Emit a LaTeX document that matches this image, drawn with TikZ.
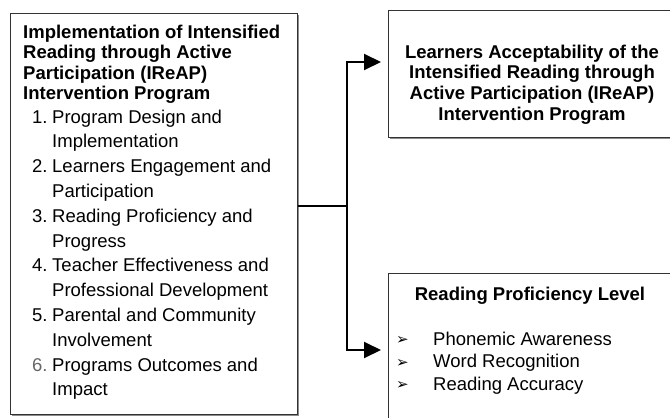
\documentclass[tikz,border=0pt]{standalone}
\usepackage{fontspec}
\setmainfont{Liberation Sans}
\newfontfamily\symfont{DejaVu Sans}
\usetikzlibrary{arrows.meta,shadows}

\tikzset{
  panel/.style={draw=black!80, line width=1.2pt, fill=white, inner sep=0pt,
    drop shadow={shadow xshift=1.5pt, shadow yshift=-1.5pt, fill=black!45, opacity=1}},
  lbl/.style={inner sep=0pt, anchor=base west, font=\fontsize{18.5}{22}\selectfont},
  head/.style={lbl, font=\fontsize{18.5}{22}\selectfont\bfseries},
  chead/.style={head, anchor=base},
  bul/.style={inner sep=0pt, anchor=base west, font=\symfont\fontsize{15}{17}\selectfont},
  link/.style={line width=2pt, black},
  tip/.style={-{Triangle[length=17pt,width=16pt]}}
}

\begin{document}
\begin{tikzpicture}[x=1pt,y=-1pt]
  \useasboundingbox (0,0) rectangle (670,418);
  \clip (0,0) rectangle (670,418);

  % boxes
  \node[panel, minimum width=287pt, minimum height=401pt, anchor=north west] (impl) at (10,13) {};
  \node[panel, minimum width=290pt, minimum height=127pt, anchor=north west] (accept) at (388,10) {};
  \node[panel, minimum width=290pt, minimum height=170pt, anchor=north west] (level) at (388,273) {};

  % left box: heading
  \node[head] (ih1) at (23,38)    {Implementation of Intensified};
  \node[head] (ih2) at (23,58.5)  {Reading through Active};
  \node[head] (ih3) at (23,79)    {Participation (IReAP)};
  \node[head] (ih4) at (23,99.5)  {Intervention Program};

  % left box: numbered components
  \node[lbl] (n1) at (32,123)   {1.};
  \node[lbl] (i1) at (52,123)   {Program Design and};
  \node[lbl] (i1b) at (52,147.8) {Implementation};
  \node[lbl] (n2) at (32,172.6) {2.};
  \node[lbl] (i2) at (52,172.6) {Learners Engagement and};
  \node[lbl] (i2b) at (52,197.4) {Participation};
  \node[lbl] (n3) at (32,222.2) {3.};
  \node[lbl] (i3) at (52,222.2) {Reading Proficiency and};
  \node[lbl] (i3b) at (52,247)   {Progress};
  \node[lbl] (n4) at (32,271.8) {4.};
  \node[lbl] (i4) at (52,271.8) {Teacher Effectiveness and};
  \node[lbl] (i4b) at (52,296.6) {Professional Development};
  \node[lbl] (n5) at (32,321.4) {5.};
  \node[lbl] (i5) at (52,321.4) {Parental and Community};
  \node[lbl] (i5b) at (52,346.2) {Involvement};
  \node[lbl, text=black!60] (n6) at (32,371) {6.};
  \node[lbl] (i6) at (52,371)   {Programs Outcomes and};
  \node[lbl] (i6b) at (52,395.8) {Impact};

  % top right box
  \node[chead] (ah1) at (532,58)    {Learners Acceptability of the};
  \node[chead] (ah2) at (532,78.7)  {Intensified Reading through};
  \node[chead] (ah3) at (532,99.4)  {Active Participation (IReAP)};
  \node[chead] (ah4) at (532,120)   {Intervention Program};

  % bottom right box
  \node[chead] (lh) at (530,300) {Reading Proficiency Level};
  \node[bul] (b1) at (396,344.5) {➢};
  \node[lbl] (l1) at (433,345)   {Phonemic Awareness};
  \node[bul] (b2) at (396,367)   {➢};
  \node[lbl] (l2) at (433,367.5) {Word Recognition};
  \node[bul] (b3) at (396,389.5) {➢};
  \node[lbl] (l3) at (433,390)   {Reading Accuracy};

  % connectors
  \coordinate (split) at (347,206);
  \coordinate (upY) at (347,62);
  \coordinate (downY) at (347,350);
  \coordinate (upEnd) at ([xshift=-7pt]accept.west |- upY);
  \coordinate (downEnd) at ([xshift=-7pt]level.west |- downY);
  \draw[link] (impl.east |- split) -- (split);
  \draw[link, tip] (split) |- (upEnd);
  \draw[link, tip] (split) |- (downEnd);
\end{tikzpicture}
\end{document}
